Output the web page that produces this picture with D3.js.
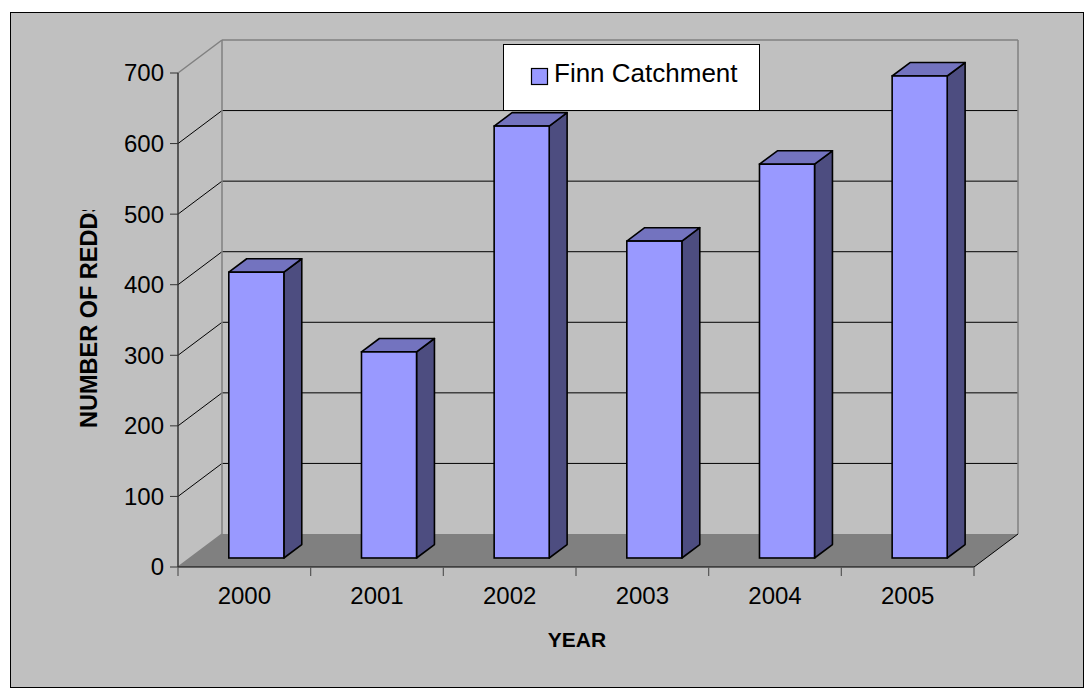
<!DOCTYPE html>
<html>
<head>
<meta charset="utf-8">
<script src="https://cdn.jsdelivr.net/npm/d3@7"></script>
<style>
html,body{margin:0;padding:0;background:#fff;}
svg{display:block;font-family:"Liberation Sans",Arial,sans-serif;}
</style>
</head>
<body>
<svg id="chart" width="1084" height="688"></svg>
<script>
const categories = ["2000","2001","2002","2003","2004","2005"];
const values = [405, 292, 612, 449, 558, 683];
const yTicks = [0,100,200,300,400,500,600,700];
const seriesName = "Finn Catchment";
const xTitle = "YEAR";
const yTitle = "NUMBER OF REDDS";

const svg = d3.select("#chart");

// projection params
const DX = 44, DY = -33;         // full depth offset
const F0 = 0.273, F1 = 0.68;     // bar depth fractions
const x = d3.scaleBand().domain(categories).range([178, 974]).paddingInner(0).paddingOuter(0);
const y = d3.scaleLinear().domain([0, 700]).range([567, 73]);
const barW = x.bandwidth() * 0.415;

// background
svg.append("rect").attr("x",10.5).attr("y",12.5).attr("width",1073).attr("height",675)
  .attr("fill","#c0c0c0").attr("stroke","#000").attr("stroke-width",1);

const x0 = x.range()[0], x1 = x.range()[1];
const yb = y(0), yt = y(700);

// floor
svg.append("polygon")
  .attr("points", [[x0,yb],[x1,yb],[x1+DX,yb+DY],[x0+DX,yb+DY]].map(p=>p.join(",")).join(" "))
  .attr("fill","#808080");

// gridlines on back wall and side wall
yTicks.filter(t=>t>0 && t<700).forEach(t=>{
  svg.append("line").attr("x1",x0+DX).attr("x2",x1+DX).attr("y1",y(t)+DY).attr("y2",y(t)+DY)
    .attr("stroke","#000").attr("stroke-width",1);
  svg.append("line").attr("x1",x0).attr("x2",x0+DX).attr("y1",y(t)).attr("y2",y(t)+DY)
    .attr("stroke","#000").attr("stroke-width",1);
});

// wall edges (gray)
const g = "#808080";
svg.append("line").attr("x1",x0+DX).attr("x2",x1+DX).attr("y1",yt+DY).attr("y2",yt+DY).attr("stroke",g).attr("stroke-width",1.5);
svg.append("line").attr("x1",x0+DX).attr("x2",x0+DX).attr("y1",yt+DY).attr("y2",yb+DY).attr("stroke",g).attr("stroke-width",1.5);
svg.append("line").attr("x1",x1+DX).attr("x2",x1+DX).attr("y1",yt+DY).attr("y2",yb+DY).attr("stroke",g).attr("stroke-width",1.5);
svg.append("line").attr("x1",x0).attr("x2",x0+DX).attr("y1",yt).attr("y2",yt+DY).attr("stroke",g).attr("stroke-width",1.5);
svg.append("line").attr("x1",x0).attr("x2",x0+DX).attr("y1",yb).attr("y2",yb+DY).attr("stroke",g).attr("stroke-width",1.5);

// floor front & right edges
svg.append("line").attr("x1",x0).attr("x2",x1).attr("y1",yb).attr("y2",yb).attr("stroke","#000").attr("stroke-width",1);
svg.append("line").attr("x1",x1).attr("x2",x1+DX).attr("y1",yb).attr("y2",yb+DY).attr("stroke","#000").attr("stroke-width",1);

// y axis
svg.append("line").attr("x1",x0).attr("x2",x0).attr("y1",yt).attr("y2",yb).attr("stroke","#333").attr("stroke-width",1.5);
const yAxis = svg.append("g");
yTicks.forEach(t=>{
  yAxis.append("line").attr("x1",x0-8).attr("x2",x0).attr("y1",y(t)).attr("y2",y(t)).attr("stroke","#333").attr("stroke-width",1);
  yAxis.append("text").attr("x",x0-14).attr("y",y(t)).attr("dy","0.35em").attr("text-anchor","end")
    .attr("font-size",24).attr("fill","#000").text(t);
});

// x axis ticks & labels
const edges = categories.map(c=>x(c)).concat([x1]);
edges.forEach(e=>{
  svg.append("line").attr("x1",e).attr("x2",e).attr("y1",yb).attr("y2",yb+9).attr("stroke","#555").attr("stroke-width",1.2);
});
categories.forEach(c=>{
  svg.append("text").attr("x",x(c)+x.bandwidth()/2).attr("y",604).attr("text-anchor","middle")
    .attr("font-size",24).attr("fill","#000").text(c);
});

// bars
const bars = svg.append("g");
categories.forEach((c,i)=>{
  const v = values[i];
  const cx = x(c) + x.bandwidth()/2;
  const fx = cx - barW/2 + F0*DX;
  const fyb = y(0) + F0*DY;
  const fyt = y(v) + F0*DY;
  const ddx = (F1-F0)*DX, ddy = (F1-F0)*DY;
  bars.append("polygon").attr("points",[[fx+barW,fyt],[fx+barW+ddx,fyt+ddy],[fx+barW+ddx,fyb+ddy],[fx+barW,fyb]].map(p=>p.join(",")).join(" "))
    .attr("fill","#4d4d80").attr("stroke","#000").attr("stroke-width",1.6).attr("stroke-linejoin","round");
  bars.append("polygon").attr("points",[[fx,fyt],[fx+ddx,fyt+ddy],[fx+barW+ddx,fyt+ddy],[fx+barW,fyt]].map(p=>p.join(",")).join(" "))
    .attr("fill","#7373bf").attr("stroke","#000").attr("stroke-width",1.6).attr("stroke-linejoin","round");
  bars.append("rect").attr("x",fx).attr("y",fyt).attr("width",barW).attr("height",fyb-fyt)
    .attr("fill","#9999ff").attr("stroke","#000").attr("stroke-width",1.6);
});

// legend
const lg = svg.append("g");
lg.append("rect").attr("x",503.5).attr("y",44.5).attr("width",256).attr("height",66).attr("fill","#fff").attr("stroke","#000").attr("stroke-width",1);
lg.append("rect").attr("x",531.5).attr("y",68.5).attr("width",16).attr("height",16).attr("fill","#9999ff").attr("stroke","#000").attr("stroke-width",1.2);
lg.append("text").attr("x",554).attr("y",82).attr("font-size",26).attr("fill","#000").text(seriesName);

// axis titles
svg.append("text").attr("x",577).attr("y",647).attr("text-anchor","middle").attr("font-size",21).attr("font-weight","bold").text(xTitle);

svg.append("clipPath").attr("id","yclip").append("rect").attr("x",0).attr("y",210).attr("width",200).attr("height",400);
svg.append("g").attr("clip-path","url(#yclip)")
  .append("text").attr("transform","translate(97,428) rotate(-90)").attr("text-anchor","start")
  .attr("font-size",23.5).attr("font-weight","bold").text(yTitle);
</script>
</body>
</html>
